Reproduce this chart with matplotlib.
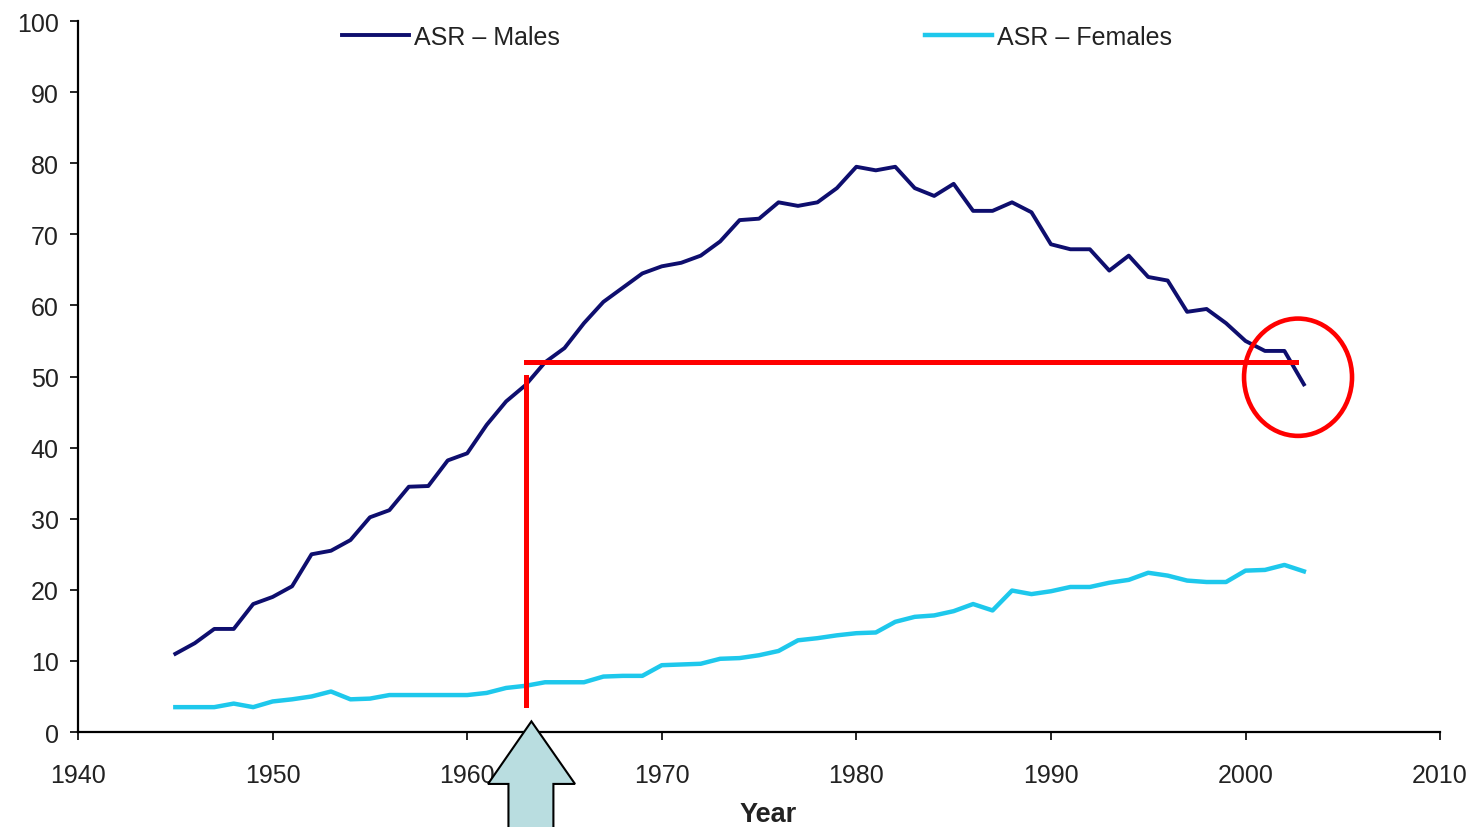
import matplotlib
matplotlib.use('Agg')
import matplotlib.pyplot as plt
import matplotlib.patches as patches
import numpy as np

# Age-standardised rates, 1945-2003
years = list(range(1945, 2004))
males = [11.0, 12.5, 14.5, 14.5, 18.0, 19.0, 20.5, 25.0, 25.5, 27.0,
         30.2, 31.2, 34.5, 34.6, 38.2, 39.2, 43.2, 46.5, 48.8, 52.0,
         54.0, 57.5, 60.5, 62.5, 64.5, 65.5, 66.0, 67.0, 69.0, 72.0,
         72.2, 74.5, 74.0, 74.5, 76.5, 79.5, 79.0, 79.5, 76.5, 75.4,
         77.1, 73.3, 73.3, 74.5, 73.1, 68.6, 67.9, 67.9, 64.9, 67.0,
         64.0, 63.5, 59.1, 59.5, 57.5, 55.0, 53.6, 53.6, 48.9]
females = [3.5, 3.5, 3.5, 4.0, 3.5, 4.3, 4.6, 5.0, 5.7, 4.6,
           4.7, 5.2, 5.2, 5.2, 5.2, 5.2, 5.5, 6.2, 6.5, 7.0,
           7.0, 7.0, 7.8, 7.9, 7.9, 9.4, 9.5, 9.6, 10.3, 10.4,
           10.8, 11.4, 12.9, 13.2, 13.6, 13.9, 14.0, 15.5, 16.2, 16.4,
           17.0, 18.0, 17.1, 19.9, 19.4, 19.8, 20.4, 20.4, 21.0, 21.4,
           22.4, 22.0, 21.3, 21.1, 21.1, 22.7, 22.8, 23.5, 22.6]
x_ticks = [1940, 1950, 1960, 1970, 1980, 1990, 2000, 2010]
y_ticks = [0, 10, 20, 30, 40, 50, 60, 70, 80, 90, 100]

# Highlight annotation: rate of 2003 already reached in 1963
mark_year = 1963
mark_level = 52
mark_end_year = 2002.6
mark_low = 3.8
mark_top = 49.9

plt.rcParams['font.family'] = ['Liberation Sans', 'DejaVu Sans']

fig = plt.figure(figsize=(14.84, 8.28), dpi=100, facecolor='white')
ax = fig.add_axes([0.0526, 0.1147, 0.9178, 0.8587])

ax.plot(years, males, color='#0E0E6E', linewidth=2.8, label='ASR \u2013 Males', zorder=3)
ax.plot(years, females, color='#1EC8EC', linewidth=3.2, label='ASR \u2013 Females', zorder=3)

# Red guide lines and circle
ax.plot([mark_year, mark_year], [mark_low, mark_top], color='#FF0000', linewidth=3.6, zorder=4)
ax.plot([mark_year, mark_end_year], [mark_level, mark_level], color='#FF0000', linewidth=3.6, zorder=4)
circ = patches.Ellipse((years[-1] - 0.3, males[-1] + 1.0), 5.55, 16.5, fill=False,
                       edgecolor='#FF0000', linewidth=3.3, zorder=5)
ax.add_patch(circ)

# Block arrow pointing at the highlighted year
ax_x = mark_year + 0.3
arrow_pts = [(ax_x, 1.5), (ax_x + 2.24, -7.3), (ax_x + 1.13, -7.3), (ax_x + 1.13, -15),
             (ax_x - 1.18, -15), (ax_x - 1.18, -7.3), (ax_x - 2.23, -7.3)]
arrow = patches.Polygon(arrow_pts, closed=True, facecolor='#B9DDE0', edgecolor='black',
                        linewidth=1.5, clip_on=False, zorder=10)
ax.add_patch(arrow)

ax.set_xlim(1940, 2010)
ax.set_ylim(0, 100)
ax.set_xticks(x_ticks)
ax.set_yticks(y_ticks)
for s in ['top', 'right']:
    ax.spines[s].set_visible(False)
for s in ['bottom', 'left']:
    ax.spines[s].set_linewidth(1.6)
    ax.spines[s].set_color('black')
ax.tick_params(axis='x', length=6, width=1.2, pad=16, labelsize=18, labelcolor='#222222')
ax.tick_params(axis='y', length=6, width=1.2, pad=8, labelsize=18, labelcolor='#222222')

ax.set_xlabel('Year', fontsize=19.5, fontweight='bold', color='#222222')
ax.xaxis.set_label_coords(0.507, -0.097)

leg = ax.legend(ncol=2, loc='center left', bbox_to_anchor=(0.1935, 0.978), frameon=False,
                fontsize=18, handlelength=2.7, handletextpad=0.2, columnspacing=14.6,
                borderpad=0, borderaxespad=0)
for t in leg.get_texts():
    t.set_color('#222222')

fig.savefig('out.png', dpi=100, facecolor='white')
